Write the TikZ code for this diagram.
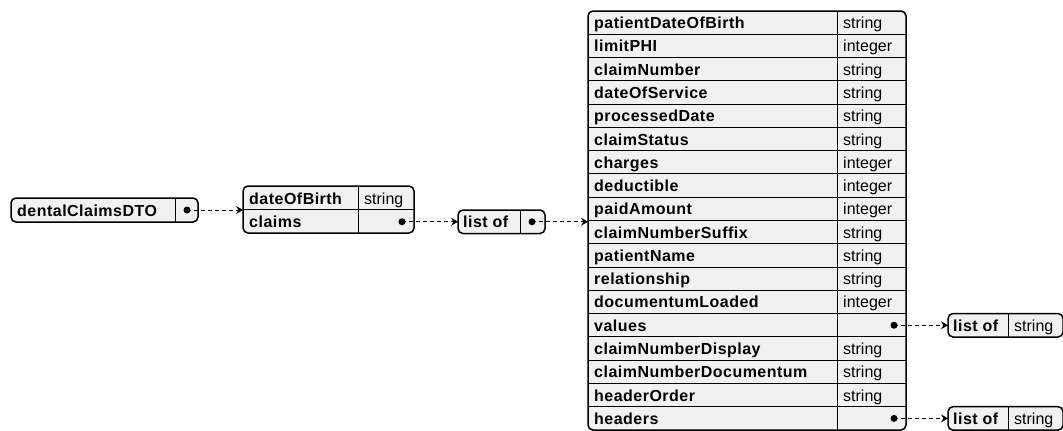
\documentclass[tikz,border=0pt]{standalone}
\usepackage{fontspec}
\setmainfont{Liberation Sans}
\newfontfamily\keyfont[LetterSpace=3]{Liberation Sans}
\usetikzlibrary{arrows.meta}
\definecolor{boxfill}{HTML}{F1F1F1}
\tikzset{
  box/.style={draw, line width=1.5pt, rounded corners=5pt, fill=boxfill, inner sep=0pt, outer sep=0pt, anchor=north west},
  sep/.style={line width=1pt},
  key/.style={anchor=base west, inner sep=0pt, font=\fontsize{16}{19}\keyfont\bfseries},
  typ/.style={anchor=base west, inner sep=0pt, font=\fontsize{16}{19}\selectfont},
  dotmark/.style={circle, fill, inner sep=0pt, minimum size=7pt},
  link/.style={line width=1pt, dash pattern=on 4pt off 3pt, -{Stealth[length=7pt,width=8pt,inset=2.5pt]}}
}
\begin{document}
\begin{tikzpicture}[x=1pt,y=-1pt]
\useasboundingbox (0,0) rectangle (1063,431);

% dentalClaimsDTO
\node[box, minimum width=187pt, minimum height=24pt] (dto) at (11,198) {};
\draw[sep] (175,198) -- (175,222);
\node[key] (dtoK) at (17,216) {dentalClaimsDTO};

% dateOfBirth / claims
\node[box, minimum width=171pt, minimum height=47pt] (obj) at (243,186) {};
\draw[sep] (243,209.5) -- (414,209.5);
\draw[sep] (358,186) -- (358,233);
\node[key] (objK1) at (249,204) {dateOfBirth};
\node[typ] (objT1) at (364,204) {string};
\node[key] (objK2) at (249,227.75) {claims};

% list of (claims)
\node[box, minimum width=87pt, minimum height=23.5pt] (lst) at (458,210) {};
\draw[sep] (520,210) -- (520,233.5);
\node[key] (lstK) at (463,227.75) {list of};

% big table
\def\rh{23.278}
\node[box, minimum width=318pt, minimum height=419pt] (tbl) at (588,11) {};
\foreach \i in {1,...,17} \draw[sep] (588,{11+\i*\rh}) -- (906,{11+\i*\rh});
\draw[sep] (837,11) -- (837,430);
\foreach \k/\t [count=\i from 0] in {patientDateOfBirth/string, limitPHI/integer, claimNumber/string, dateOfService/string, processedDate/string, claimStatus/string, charges/integer, deductible/integer, paidAmount/integer, claimNumberSuffix/string, patientName/string, relationship/string, documentumLoaded/integer, values/, claimNumberDisplay/string, claimNumberDocumentum/string, headerOrder/string, headers/} {
  \node[key] (tk\i) at (594,{11+(\i+0.5)*\rh+6}) {\k};
  \node[typ] (tt\i) at (843,{11+(\i+0.5)*\rh+6}) {\t};
}

% list of string (values)
\node[box, minimum width=115pt, minimum height=23.5pt] (lv) at (948,313.5) {};
\draw[sep] (1008,313.5) -- (1008,337);
\node[key] (lvK) at (953,331.25) {list of};
\node[typ] (lvT) at (1014,331.25) {string};

% list of string (headers)
\node[box, minimum width=115pt, minimum height=23.5pt] (lh) at (948,406.65) {};
\draw[sep] (1008,406.65) -- (1008,430.15);
\node[key] (lhK) at (953,424.4) {list of};
\node[typ] (lhT) at (1014,424.4) {string};

% connectors
\coordinate (d1) at (187,210);
\coordinate (d2) at (402,221.75);
\coordinate (d3) at (532,221.75);
\coordinate (d4) at (894,325.25);
\coordinate (d5) at (894,418.4);
\draw[link] (d1) -- (d1 -| obj.west);
\draw[link] (d2) -- (d2 -| lst.west);
\draw[link] (d3) -- (d3 -| tbl.west);
\draw[link] (d4) -- (d4 -| lv.west);
\draw[link] (d5) -- (d5 -| lh.west);
\foreach \d in {d1,d2,d3,d4,d5} \node[dotmark] (\d m) at (\d) {};
\end{tikzpicture}
\end{document}
